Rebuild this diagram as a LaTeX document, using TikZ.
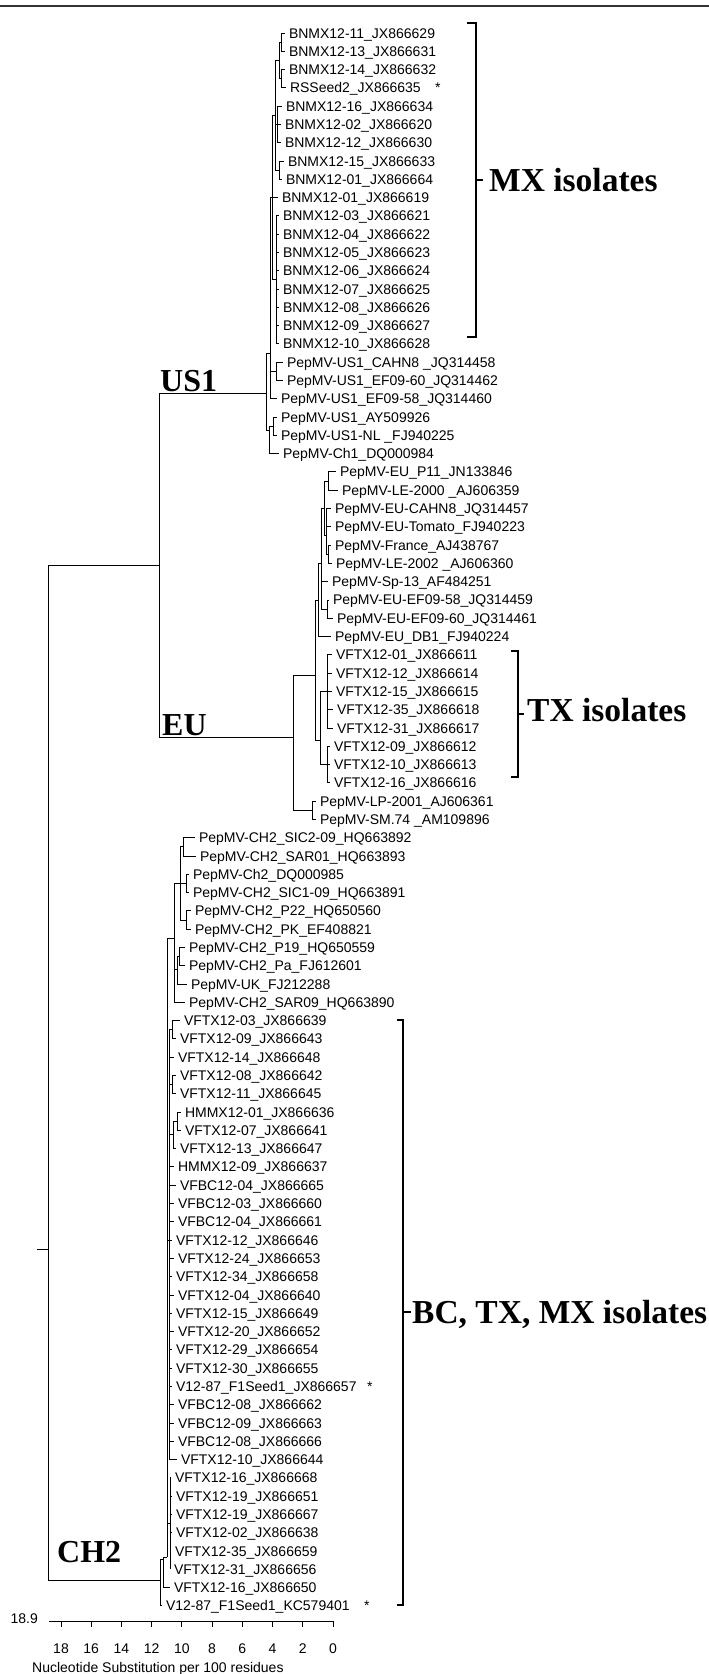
\documentclass[tikz,border=0pt]{standalone}
\usepackage{fontspec}
\setmainfont{Liberation Sans}
\newfontfamily\tnr{Liberation Serif}
\newcommand\lblfont{\fontsize{14}{16}\selectfont}
\newcommand\rr[1]{(33+18.29*(#1))}
\newcommand\lf[4]{\node[leaf] (#1) at (#2,{\rr{#3}}) {#4};}
\begin{document}
\begin{tikzpicture}[x=1pt,y=-1pt,
  tree/.style={line width=1pt},
  brk/.style={line width=1.6pt},
  leaf/.style={anchor=west, inner xsep=4pt, inner ysep=0pt, outer sep=0pt, text height=10pt, text depth=0pt, font=\lblfont},
  ast/.style={anchor=west, inner sep=0pt, text height=10pt, text depth=0pt, font=\lblfont},
  axl/.style={inner sep=0pt, text height=10pt, text depth=0pt, font=\lblfont},
  clade/.style={anchor=base west, inner sep=0pt, font=\tnr\bfseries\fontsize{32}{32}\selectfont},
  iso/.style={anchor=base west, inner sep=0pt, font=\tnr\bfseries\fontsize{33.5}{34}\selectfont}]
\useasboundingbox (0,0) rectangle (709,1674);
\coordinate (tl) at (0,6); \coordinate (tr) at (709,6);
\draw[line width=2pt, black!80] (tl) -- (tr);
% leaves
\lf{L0}{285}{0}{BNMX12-11\_JX866629}
\lf{L1}{285}{1}{BNMX12-13\_JX866631}
\lf{L2}{285}{2}{BNMX12-14\_JX866632}
\lf{L3}{286}{3}{RSSeed2\_JX866635}
\lf{L4}{282}{4}{BNMX12-16\_JX866634}
\lf{L5}{281}{5}{BNMX12-02\_JX866620}
\lf{L6}{281}{6}{BNMX12-12\_JX866630}
\lf{L7}{284}{7}{BNMX12-15\_JX866633}
\lf{L8}{282}{8}{BNMX12-01\_JX866664}
\lf{L9}{278}{9}{BNMX12-01\_JX866619}
\lf{L10}{279}{10}{BNMX12-03\_JX866621}
\lf{L11}{279}{11}{BNMX12-04\_JX866622}
\lf{L12}{279}{12}{BNMX12-05\_JX866623}
\lf{L13}{279}{13}{BNMX12-06\_JX866624}
\lf{L14}{279}{14}{BNMX12-07\_JX866625}
\lf{L15}{279}{15}{BNMX12-08\_JX866626}
\lf{L16}{279}{16}{BNMX12-09\_JX866627}
\lf{L17}{279}{17}{BNMX12-10\_JX866628}
\lf{L18}{283}{18}{PepMV-US1\_CAHN8 \_JQ314458}
\lf{L19}{283}{19}{PepMV-US1\_EF09-60\_JQ314462}
\lf{L20}{277}{20}{PepMV-US1\_EF09-58\_JQ314460}
\lf{L21}{277}{21}{PepMV-US1\_AY509926}
\lf{L22}{277}{22}{PepMV-US1-NL \_FJ940225}
\lf{L23}{279}{23}{PepMV-Ch1\_DQ000984}
\lf{L24}{336}{24}{PepMV-EU\_P11\_JN133846}
\lf{L25}{338}{25}{PepMV-LE-2000 \_AJ606359}
\lf{L26}{331}{26}{PepMV-EU-CAHN8\_JQ314457}
\lf{L27}{331}{27}{PepMV-EU-Tomato\_FJ940223}
\lf{L28}{331}{28}{PepMV-France\_AJ438767}
\lf{L29}{332}{29}{PepMV-LE-2002 \_AJ606360}
\lf{L30}{328}{30}{PepMV-Sp-13\_AF484251}
\lf{L31}{329}{31}{PepMV-EU-EF09-58\_JQ314459}
\lf{L32}{333}{32}{PepMV-EU-EF09-60\_JQ314461}
\lf{L33}{331}{33}{PepMV-EU\_DB1\_FJ940224}
\lf{L34}{332}{34}{VFTX12-01\_JX866611}
\lf{L35}{332}{35}{VFTX12-12\_JX866614}
\lf{L36}{332}{36}{VFTX12-15\_JX866615}
\lf{L37}{333}{37}{VFTX12-35\_JX866618}
\lf{L38}{333}{38}{VFTX12-31\_JX866617}
\lf{L39}{330}{39}{VFTX12-09\_JX866612}
\lf{L40}{330}{40}{VFTX12-10\_JX866613}
\lf{L41}{330}{41}{VFTX12-16\_JX866616}
\lf{L42}{316}{42}{PepMV-LP-2001\_AJ606361}
\lf{L43}{316}{43}{PepMV-SM.74 \_AM109896}
\lf{L44}{195}{44}{PepMV-CH2\_SIC2-09\_HQ663892}
\lf{L45}{196}{45}{PepMV-CH2\_SAR01\_HQ663893}
\lf{L46}{189}{46}{PepMV-Ch2\_DQ000985}
\lf{L47}{189}{47}{PepMV-CH2\_SIC1-09\_HQ663891}
\lf{L48}{191}{48}{PepMV-CH2\_P22\_HQ650560}
\lf{L49}{191}{49}{PepMV-CH2\_PK\_EF408821}
\lf{L50}{185}{50}{PepMV-CH2\_P19\_HQ650559}
\lf{L51}{185}{51}{PepMV-CH2\_Pa\_FJ612601}
\lf{L52}{187}{52}{PepMV-UK\_FJ212288}
\lf{L53}{185}{53}{PepMV-CH2\_SAR09\_HQ663890}
\lf{L54}{180}{54}{VFTX12-03\_JX866639}
\lf{L55}{176}{55}{VFTX12-09\_JX866643}
\lf{L56}{174}{56}{VFTX12-14\_JX866648}
\lf{L57}{176}{57}{VFTX12-08\_JX866642}
\lf{L58}{176}{58}{VFTX12-11\_JX866645}
\lf{L59}{181}{59}{HMMX12-01\_JX866636}
\lf{L60}{181}{60}{VFTX12-07\_JX866641}
\lf{L61}{176}{61}{VFTX12-13\_JX866647}
\lf{L62}{174}{62}{HMMX12-09\_JX866637}
\lf{L63}{176}{63}{VFBC12-04\_JX866665}
\lf{L64}{174}{64}{VFBC12-03\_JX866660}
\lf{L65}{174}{65}{VFBC12-04\_JX866661}
\lf{L66}{172}{66}{VFTX12-12\_JX866646}
\lf{L67}{174}{67}{VFTX12-24\_JX866653}
\lf{L68}{172}{68}{VFTX12-34\_JX866658}
\lf{L69}{174}{69}{VFTX12-04\_JX866640}
\lf{L70}{172}{70}{VFTX12-15\_JX866649}
\lf{L71}{174}{71}{VFTX12-20\_JX866652}
\lf{L72}{172}{72}{VFTX12-29\_JX866654}
\lf{L73}{172}{73}{VFTX12-30\_JX866655}
\lf{L74}{172}{74}{V12-87\_F1Seed1\_JX866657}
\lf{L75}{174}{75}{VFBC12-08\_JX866662}
\lf{L76}{174}{76}{VFBC12-09\_JX866663}
\lf{L77}{174}{77}{VFBC12-08\_JX866666}
\lf{L78}{177}{78}{VFTX12-10\_JX866644}
\lf{L79}{171}{79}{VFTX12-16\_JX866668}
\lf{L80}{172}{80}{VFTX12-19\_JX866651}
\lf{L81}{172}{81}{VFTX12-19\_JX866667}
\lf{L82}{172}{82}{VFTX12-02\_JX866638}
\lf{L83}{171}{83}{VFTX12-35\_JX866659}
\lf{L84}{170}{84}{VFTX12-31\_JX866656}
\lf{L85}{170}{85}{VFTX12-16\_JX866650}
\lf{L86}{162}{86}{V12-87\_F1Seed1\_KC579401}
\node[ast] (s1) at (435,{\rr{3}}) {*};
\node[ast] (s2) at (367,{\rr{74}}) {*};
\node[ast] (s3) at (364,{\rr{86}}) {*};
% internal nodes
\coordinate (m1) at (281,{\rr{0.5}});
\coordinate (m2) at (281,{\rr{2.5}});
\coordinate (m3) at (279,{\rr{1.5}});
\coordinate (m4) at (277,{\rr{5}});
\coordinate (m5) at (279,{\rr{7.5}});
\coordinate (m6) at (275,{\rr{4.5}});
\coordinate (m8) at (276,{\rr{13.5}});
\coordinate (mx) at (272,{\rr{9}});
\coordinate (umid) at (276,{\rr{18.5}});
\coordinate (uup) at (270,353);
\coordinate (ulow) at (273,{\rr{21.5}});
\coordinate (ulow2) at (269,430);
\coordinate (us1) at (266,393);
\coordinate (n1) at (328,{\rr{24.5}});
\coordinate (n2) at (328,{\rr{28.5}});
\coordinate (n3) at (326,{\rr{27.5}});
\coordinate (n4) at (324,{\rr{26}});
\coordinate (n5) at (327,{\rr{31.5}});
\coordinate (n6) at (321,{\rr{29}});
\coordinate (n7) at (318,{\rr{31}});
\coordinate (t1) at (327,{\rr{36}});
\coordinate (t2) at (327,{\rr{40}});
\coordinate (tx) at (320,740);
\coordinate (e1) at (315,675);
\coordinate (lp) at (312,{\rr{42.5}});
\coordinate (eu) at (293,737);
\coordinate (useu) at (159,565);
\coordinate (r1) at (183,{\rr{44.5}});
\coordinate (r2) at (186,{\rr{46.5}});
\coordinate (r3) at (186,{\rr{48.5}});
\coordinate (r4) at (180,{\rr{46.5}});
\coordinate (r5) at (179,{\rr{50.5}});
\coordinate (r6) at (177,{\rr{51.2}});
\coordinate (r7) at (174,{\rr{49.5}});
\coordinate (b1) at (172,{\rr{54.5}});
\coordinate (b2) at (172,{\rr{57.5}});
\coordinate (b3) at (177,{\rr{59.5}});
\coordinate (b4) at (173,{\rr{60.2}});
\coordinate (bt) at (169,{\rr{66}});
\coordinate (bl) at (170,{\rr{81.5}});
\coordinate (c2) at (167,1557);
\coordinate (c1) at (163,1559);
\coordinate (ch2) at (160,1580);
\coordinate (root) at (48,1249);
\coordinate (stub) at (37,1249);
% edges
\foreach \p/\c in {m1/L0.west, m1/L1.west, m2/L2.west, m2/L3.west, m3/m1, m3/m2,
  m4/L4.west, m4/L5.west, m4/L6.west, m5/L7.west, m5/L8.west, m6/m3, m6/m4, m6/m5,
  m8/L10.west, m8/L11.west, m8/L12.west, m8/L13.west, m8/L14.west, m8/L15.west, m8/L16.west, m8/L17.west,
  mx/m6, mx/L9.west, mx/m8, umid/L18.west, umid/L19.west, uup/mx, uup/umid, uup/L20.west,
  ulow/L21.west, ulow/L22.west, ulow2/ulow, ulow2/L23.west, us1/uup, us1/ulow2, useu/us1, useu/eu,
  n1/L24.west, n1/L25.west, n2/L28.west, n2/L29.west, n3/L26.west, n3/L27.west, n3/n2, n4/n1, n4/n3,
  n5/L31.west, n5/L32.west, n6/n4, n6/L30.west, n6/n5, n7/n6, n7/L33.west,
  t1/L34.west, t1/L35.west, t1/L36.west, t1/L37.west, t1/L38.west, t2/L39.west, t2/L40.west, t2/L41.west,
  tx/t1, tx/t2, e1/n7, e1/tx, lp/L42.west, lp/L43.west, eu/e1, eu/lp,
  r1/L44.west, r1/L45.west, r2/L46.west, r2/L47.west, r3/L48.west, r3/L49.west, r4/r1, r4/r2, r4/r3,
  r5/L50.west, r5/L51.west, r6/r5, r6/L52.west, r7/r4, r7/r6, r7/L53.west,
  b1/L54.west, b1/L55.west, b2/L57.west, b2/L58.west, b3/L59.west, b3/L60.west, b4/b3, b4/L61.west,
  bt/b1, bt/L56.west, bt/b2, bt/b4, bt/L62.west, bt/L63.west, bt/L64.west, bt/L65.west, bt/L66.west,
  bt/L67.west, bt/L68.west, bt/L69.west, bt/L70.west, bt/L71.west, bt/L72.west, bt/L73.west, bt/L74.west,
  bt/L75.west, bt/L76.west, bt/L77.west, bt/L78.west,
  bl/L79.west, bl/L80.west, bl/L81.west, bl/L82.west, bl/L83.west, bl/L84.west,
  c2/r7, c2/bt, c2/bl, c1/c2, c1/L85.west, ch2/c1, ch2/L86.west, root/useu, root/ch2}
  {\draw[tree] (\p) |- (\c);}
\draw[tree] (stub) -- (root);
% clade labels
\node[clade] (US1l) at (160,391) {US1};
\node[clade] (EUl) at (162,735) {EU};
\node[clade] (CH2l) at (57,1562) {CH2};
% brackets
\coordinate (mA) at (467,23); \coordinate (mB) at (476,23); \coordinate (mC) at (476,337); \coordinate (mD) at (467,337);
\coordinate (mT) at (476,180); \coordinate (mU) at (483,180);
\draw[brk] (mA) -- (mB) -- (mC) -- (mD); \draw[brk] (mT) -- (mU);
\node[iso] (MXl) at (489,191) {MX isolates};
\coordinate (tA) at (511,651); \coordinate (tB) at (518,651); \coordinate (tC) at (518,777); \coordinate (tD) at (511,777);
\coordinate (tT) at (518,714); \coordinate (tU) at (524,714);
\draw[brk] (tA) -- (tB) -- (tC) -- (tD); \draw[brk] (tT) -- (tU);
\node[iso] (TXl) at (527,721) {TX isolates};
\coordinate (bA) at (397,1020); \coordinate (bB) at (403,1020); \coordinate (bC) at (403,1605); \coordinate (bD) at (397,1605);
\coordinate (bT) at (403,1312); \coordinate (bU) at (411,1312);
\draw[brk] (bA) -- (bB) -- (bC) -- (bD); \draw[brk] (bT) -- (bU);
\node[iso] (BCl) at (412,1323) {BC, TX, MX isolates};
% axis
\coordinate (a0) at (49,1621); \coordinate (a1) at (333,1621);
\draw[tree] (a0) -- (a1);
\foreach \k in {0,...,9} {
  \pgfmathsetmacro\xx{333-30.22*\k}
  \pgfmathtruncatemacro\lab{2*\k}
  \coordinate (tk\k) at (\xx,1621);
  \coordinate (tke\k) at (\xx,1627);
  \draw[tree] (tk\k) -- (tke\k);
  \node[axl] (tl\k) at (\xx,1648) {\lab};
}
\node[axl, anchor=east] (sc) at (38,1618) {18.9};
\node[axl, anchor=west] (ttl) at (32,1667) {Nucleotide Substitution per 100 residues};
\end{tikzpicture}
\end{document}
